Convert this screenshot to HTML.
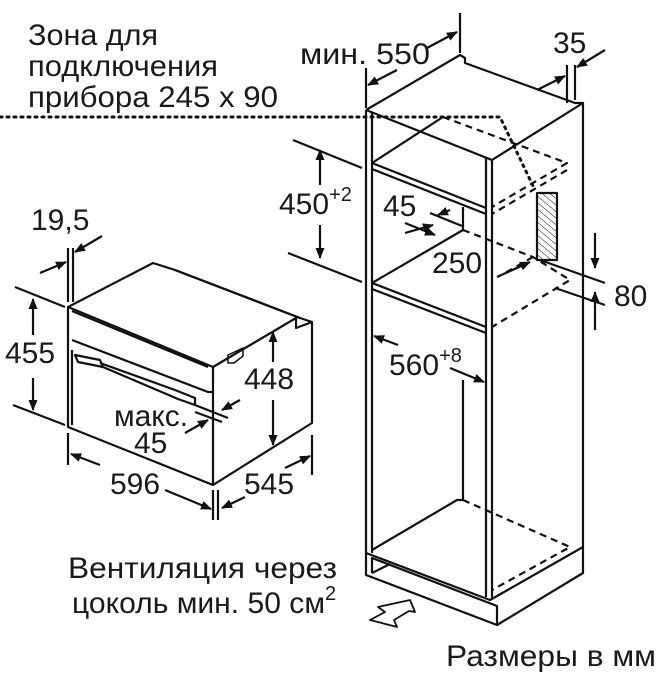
<!DOCTYPE html>
<html><head><meta charset="utf-8"><style>
html,body{margin:0;padding:0;background:#fff}
svg{display:block}
text{font-family:"Liberation Sans",sans-serif;fill:#1a1a1a;font-size:30px}
</style></head><body>
<svg width="667" height="674" viewBox="0 0 667 674" xmlns="http://www.w3.org/2000/svg">
<defs>
<marker id="a" markerWidth="11" markerHeight="9" refX="10" refY="4.5" orient="auto" markerUnits="userSpaceOnUse" viewBox="0 0 11 9"><path d="M0,0 L11,4.5 L0,9 Z" fill="#111"/></marker>
<pattern id="h" width="5" height="5" patternUnits="userSpaceOnUse" patternTransform="rotate(-50)"><line x1="0" y1="0" x2="0" y2="5" stroke="#111" stroke-width="1"/></pattern>
</defs>
<g fill="none" stroke="#111" stroke-width="2.2" stroke-linejoin="round">
<path d="M0,117 L500,117 L535,190" stroke-dasharray="2 5" stroke-linecap="round" stroke-width="3"/>
<path d="M366,110 L460,55 L465,58 L465,63 L575,103 L583,103 L492,160 L366,110"/>
<line x1="366" y1="110" x2="366" y2="553"/>
<line x1="372" y1="113" x2="372" y2="553"/>
<line x1="486" y1="158" x2="486" y2="597"/>
<line x1="492" y1="160" x2="492" y2="600"/>
<line x1="583" y1="103" x2="583" y2="547"/>
<path d="M366,553 L490,600 L583,547"/>
<path d="M372,550 L457,500 L463,500 L463,380"/>
<path d="M463,500 L570,547 L492,590" stroke-dasharray="7 5"/>
<path d="M366,553 L366,575 L497,625 L583,573 L583,547"/>
<path d="M372,573 L372,558 L497,606 L497,625"/>
<path d="M372,573 L390,564"/>
<path d="M372,163 L486,208"/><path d="M372,169 L486,214"/>
<path d="M372,163 L443,117"/>
<path d="M443,117 L567,163 L492,207" stroke-dasharray="7 5"/>
<path d="M567,170 L492,214" stroke-dasharray="7 5"/>
<path d="M372,283 L486,327"/><path d="M372,289 L486,333"/>
<path d="M372,283 L463,230 L463,207"/>
<path d="M463,230 L533,257 L570,280 L492,327" stroke-dasharray="7 5"/>
<path d="M533,257 L505,273" stroke-dasharray="7 5"/>
<rect x="537" y="193" width="20" height="67" fill="url(#h)"/>
<line x1="460" y1="13" x2="460" y2="53"/>
<line x1="366" y1="68" x2="366" y2="108"/>
<line x1="427" y1="48" x2="457" y2="32" marker-end="url(#a)"/>
<line x1="397" y1="70" x2="368" y2="85" marker-end="url(#a)"/>
<line x1="567" y1="65" x2="567" y2="103"/>
<line x1="575" y1="65" x2="575" y2="100"/>
<line x1="537" y1="90" x2="565" y2="76" marker-end="url(#a)"/>
<line x1="605" y1="50" x2="577" y2="67" marker-end="url(#a)"/>
<line x1="293" y1="140" x2="362" y2="168"/>
<line x1="288" y1="253" x2="362" y2="282"/>
<line x1="320" y1="185" x2="320" y2="150" marker-end="url(#a)"/>
<line x1="320" y1="225" x2="320" y2="258" marker-end="url(#a)"/>
<line x1="430" y1="213" x2="462" y2="226"/>
<line x1="405" y1="223" x2="435" y2="235" marker-end="url(#a)"/>
<line x1="450" y1="210" x2="438" y2="215" marker-end="url(#a)"/>
<line x1="405" y1="233" x2="433" y2="225" marker-end="url(#a)"/>
<line x1="497" y1="277" x2="530" y2="262" marker-end="url(#a)"/>
<line x1="540" y1="260" x2="605" y2="283"/>
<line x1="555" y1="288" x2="605" y2="305"/>
<line x1="595" y1="233" x2="595" y2="268" marker-end="url(#a)"/>
<line x1="595" y1="330" x2="595" y2="292" marker-end="url(#a)"/>
<line x1="398" y1="345" x2="374" y2="336" marker-end="url(#a)"/>
<line x1="450" y1="368" x2="484" y2="382" marker-end="url(#a)"/>
<path d="M370,620 L385,612 L378,607 L410,600 L415,612 L409,611 L394,620 L397,627 Z" stroke-width="1.8"/>
<path d="M68,307 L153,263 L175,270 L300,318 L312,322 L312,423 L213,485 L68,427 Z"/>
<path d="M68,307 L213,367 L213,485"/>
<path d="M72,311 L208,367"/>
<path d="M213,367 L296,318 L296,328 L312,322"/>
<path d="M175,270 L300,318"/>
<path d="M72,340 L208,392 L213,392"/>
<path d="M72,350 L72,425"/>
<path d="M75,355 L100,360 L103,367 L78,362 Z"/>
<path d="M100,363 L175,390 L195,398 L195,405 L178,399 L103,367"/>
<path d="M228,355 L243,348 L243,356 L234,363 L228,363 Z" stroke-width="1.5"/>
<line x1="68" y1="248" x2="68" y2="302"/>
<line x1="73" y1="248" x2="73" y2="302"/>
<line x1="40" y1="273" x2="66" y2="262" marker-end="url(#a)"/>
<line x1="102" y1="236" x2="75" y2="252" marker-end="url(#a)"/>
<line x1="15" y1="287" x2="65" y2="307"/>
<line x1="13" y1="405" x2="65" y2="425"/>
<line x1="33" y1="335" x2="33" y2="299" marker-end="url(#a)"/>
<line x1="33" y1="378" x2="33" y2="410" marker-end="url(#a)"/>
<line x1="273" y1="362" x2="273" y2="332" marker-end="url(#a)"/>
<line x1="273" y1="400" x2="273" y2="445" marker-end="url(#a)"/>
<line x1="195" y1="405" x2="228" y2="418"/>
<line x1="195" y1="412" x2="222" y2="422"/>
<line x1="240" y1="400" x2="222" y2="410" marker-end="url(#a)"/>
<line x1="185" y1="433" x2="208" y2="420" marker-end="url(#a)"/>
<line x1="68" y1="433" x2="68" y2="465"/>
<line x1="213" y1="490" x2="213" y2="520"/>
<line x1="218" y1="490" x2="218" y2="520"/>
<line x1="312" y1="435" x2="312" y2="475"/>
<line x1="100" y1="465" x2="71" y2="454" marker-end="url(#a)"/>
<line x1="165" y1="490" x2="211" y2="509" marker-end="url(#a)"/>
<line x1="245" y1="497" x2="222" y2="508" marker-end="url(#a)"/>
<line x1="285" y1="468" x2="310" y2="456" marker-end="url(#a)"/>
</g>
<text x="28" y="45" textLength="130" lengthAdjust="spacingAndGlyphs">Зона для</text>
<text x="28" y="76" textLength="190" lengthAdjust="spacingAndGlyphs">подключения</text>
<text x="28" y="107" textLength="250" lengthAdjust="spacingAndGlyphs">прибора 245 x 90</text>
<text x="300" y="64" textLength="130" lengthAdjust="spacingAndGlyphs">мин. 550</text>
<text x="553" y="53">35</text>
<text x="279" y="214">450<tspan font-size="20" dy="-13">+2</tspan></text>
<text x="383" y="216">45</text>
<text x="432" y="273">250</text>
<text x="614" y="306">80</text>
<text x="389" y="375">560<tspan font-size="20" dy="-13">+8</tspan></text>
<text x="31" y="230">19,5</text>
<text x="5" y="363">455</text>
<text x="244" y="389">448</text>
<text x="114" y="426">макс.</text>
<text x="134" y="453">45</text>
<text x="110" y="494">596</text>
<text x="244" y="494">545</text>
<text x="68" y="578" textLength="269" lengthAdjust="spacingAndGlyphs">Вентиляция через</text>
<text x="72" y="613"><tspan textLength="253" lengthAdjust="spacingAndGlyphs">цоколь мин. 50 см</tspan><tspan font-size="20" dy="-13">2</tspan></text>
<text x="446" y="666" textLength="210" lengthAdjust="spacingAndGlyphs">Размеры в мм</text>
</svg>
</body></html>
